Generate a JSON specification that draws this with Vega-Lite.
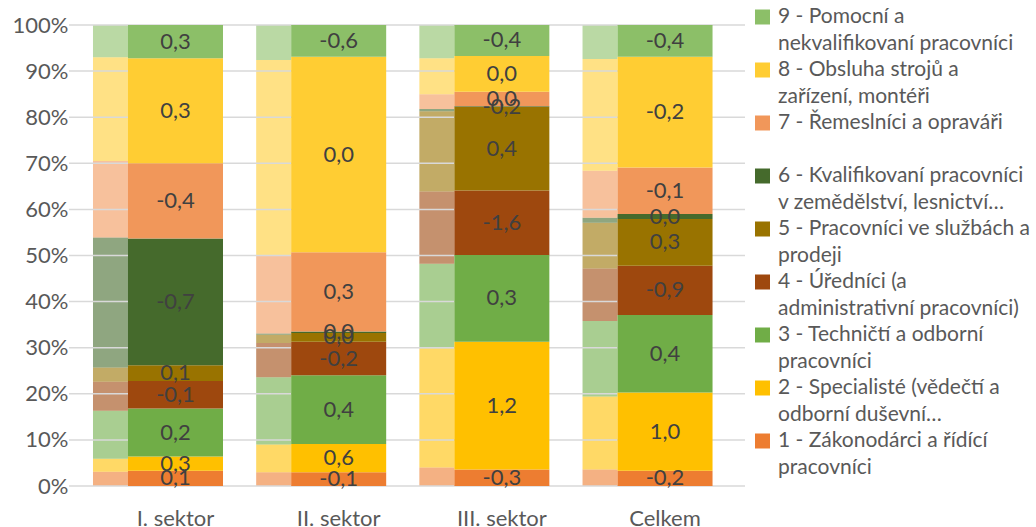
{
  "$schema": "https://vega.github.io/schema/vega-lite/v6.json",
  "width": 676,
  "height": 461,
  "autosize": {"type": "none"},
  "padding": {"left": 69, "top": 25, "right": 291, "bottom": 41},
  "background": "white",
  "config": {
    "font": "Lato",
    "view": {"stroke": null},
    "locale": {"number": {"decimal": ",", "thousands": " ", "grouping": [3], "currency": ["", " Kč"], "minus": "-"}},
    "style": {"guide-label": {"lineHeight": 26.5}},
    "axisY": {"grid": false, "domain": false, "ticks": false, "labelFontSize": 22, "labelColor": "#595959", "labelPadding": 1, "labelFont": "Lato"},
    "axisX": {"grid": false, "domain": false, "ticks": false, "labelFontSize": 22, "labelColor": "#595959", "labelPadding": 22, "labelOffset": 17.5, "labelAngle": 0, "labelFont": "Lato"},
    "legend": {"symbolOpacity": 1}
  },
  "datasets": {
    "grid": [{"v": 0}, {"v": 10}, {"v": 20}, {"v": 30}, {"v": 40}, {"v": 50}, {"v": 60}, {"v": 70}, {"v": 80}, {"v": 90}, {"v": 100}],
    "bars": [
      {"sector": "I. sektor", "code": 1, "cat": "1 - Zákonodárci a řídící pracovníci", "prev": 3.1, "curr": 3.3, "diff": 0.1},
      {"sector": "I. sektor", "code": 2, "cat": "2 - Specialisté (vědečtí a odborní duševní…", "prev": 2.8, "curr": 3.1, "diff": 0.3},
      {"sector": "I. sektor", "code": 3, "cat": "3 - Techničtí a odborní pracovníci", "prev": 10.4, "curr": 10.4, "diff": 0.2},
      {"sector": "I. sektor", "code": 4, "cat": "4 - Úředníci (a administrativní pracovníci)", "prev": 6.3, "curr": 6.0, "diff": -0.1},
      {"sector": "I. sektor", "code": 5, "cat": "5 - Pracovníci ve službách a prodeji", "prev": 3.1, "curr": 3.4, "diff": 0.1},
      {"sector": "I. sektor", "code": 6, "cat": "6 - Kvalifikovaní pracovníci v zemědělství, lesnictví…", "prev": 28.2, "curr": 27.5, "diff": -0.7},
      {"sector": "I. sektor", "code": 7, "cat": "7 - Řemeslníci a opraváři", "prev": 16.6, "curr": 16.3, "diff": -0.4},
      {"sector": "I. sektor", "code": 8, "cat": "8 - Obsluha strojů a zařízení, montéři", "prev": 22.5, "curr": 22.8, "diff": 0.3},
      {"sector": "I. sektor", "code": 9, "cat": "9 - Pomocní a nekvalifikovaní pracovníci", "prev": 7.0, "curr": 7.2, "diff": 0.3},
      {"sector": "II. sektor", "code": 1, "cat": "1 - Zákonodárci a řídící pracovníci", "prev": 3.0, "curr": 3.0, "diff": -0.1},
      {"sector": "II. sektor", "code": 2, "cat": "2 - Specialisté (vědečtí a odborní duševní…", "prev": 6.0, "curr": 6.1, "diff": 0.6},
      {"sector": "II. sektor", "code": 3, "cat": "3 - Techničtí a odborní pracovníci", "prev": 14.6, "curr": 14.9, "diff": 0.4},
      {"sector": "II. sektor", "code": 4, "cat": "4 - Úředníci (a administrativní pracovníci)", "prev": 7.4, "curr": 7.3, "diff": -0.2},
      {"sector": "II. sektor", "code": 5, "cat": "5 - Pracovníci ve službách a prodeji", "prev": 1.8, "curr": 1.9, "diff": 0.0},
      {"sector": "II. sektor", "code": 6, "cat": "6 - Kvalifikovaní pracovníci v zemědělství, lesnictví…", "prev": 0.3, "curr": 0.3, "diff": 0.0},
      {"sector": "II. sektor", "code": 7, "cat": "7 - Řemeslníci a opraváři", "prev": 16.8, "curr": 17.2, "diff": 0.3},
      {"sector": "II. sektor", "code": 8, "cat": "8 - Obsluha strojů a zařízení, montéři", "prev": 42.5, "curr": 42.4, "diff": 0.0},
      {"sector": "II. sektor", "code": 9, "cat": "9 - Pomocní a nekvalifikovaní pracovníci", "prev": 7.6, "curr": 6.9, "diff": -0.6},
      {"sector": "III. sektor", "code": 1, "cat": "1 - Zákonodárci a řídící pracovníci", "prev": 4.0, "curr": 3.6, "diff": -0.3},
      {"sector": "III. sektor", "code": 2, "cat": "2 - Specialisté (vědečtí a odborní duševní…", "prev": 25.9, "curr": 27.7, "diff": 1.2},
      {"sector": "III. sektor", "code": 3, "cat": "3 - Techničtí a odborní pracovníci", "prev": 18.3, "curr": 18.8, "diff": 0.3},
      {"sector": "III. sektor", "code": 4, "cat": "4 - Úředníci (a administrativní pracovníci)", "prev": 15.7, "curr": 14.0, "diff": -1.6},
      {"sector": "III. sektor", "code": 5, "cat": "5 - Pracovníci ve službách a prodeji", "prev": 17.4, "curr": 18.1, "diff": 0.4},
      {"sector": "III. sektor", "code": 6, "cat": "6 - Kvalifikovaní pracovníci v zemědělství, lesnictví…", "prev": 0.5, "curr": 0.2, "diff": -0.2},
      {"sector": "III. sektor", "code": 7, "cat": "7 - Řemeslníci a opraváři", "prev": 3.2, "curr": 3.1, "diff": 0.0},
      {"sector": "III. sektor", "code": 8, "cat": "8 - Obsluha strojů a zařízení, montéři", "prev": 7.8, "curr": 7.8, "diff": 0.0},
      {"sector": "III. sektor", "code": 9, "cat": "9 - Pomocní a nekvalifikovaní pracovníci", "prev": 7.2, "curr": 6.7, "diff": -0.4},
      {"sector": "Celkem", "code": 1, "cat": "1 - Zákonodárci a řídící pracovníci", "prev": 3.6, "curr": 3.3, "diff": -0.2},
      {"sector": "Celkem", "code": 2, "cat": "2 - Specialisté (vědečtí a odborní duševní…", "prev": 15.8, "curr": 17.0, "diff": 1.0},
      {"sector": "Celkem", "code": 3, "cat": "3 - Techničtí a odborní pracovníci", "prev": 16.4, "curr": 16.8, "diff": 0.4},
      {"sector": "Celkem", "code": 4, "cat": "4 - Úředníci (a administrativní pracovníci)", "prev": 11.4, "curr": 10.7, "diff": -0.9},
      {"sector": "Celkem", "code": 5, "cat": "5 - Pracovníci ve službách a prodeji", "prev": 9.9, "curr": 10.1, "diff": 0.3},
      {"sector": "Celkem", "code": 6, "cat": "6 - Kvalifikovaní pracovníci v zemědělství, lesnictví…", "prev": 1.1, "curr": 1.1, "diff": 0.0},
      {"sector": "Celkem", "code": 7, "cat": "7 - Řemeslníci a opraváři", "prev": 10.2, "curr": 10.1, "diff": -0.1},
      {"sector": "Celkem", "code": 8, "cat": "8 - Obsluha strojů a zařízení, montéři", "prev": 24.2, "curr": 24.0, "diff": -0.2},
      {"sector": "Celkem", "code": 9, "cat": "9 - Pomocní a nekvalifikovaní pracovníci", "prev": 7.4, "curr": 6.9, "diff": -0.4}
    ]
  },
  "layer": [
    {
      "data": {"name": "bars"},
      "mark": {"type": "bar", "width": {"band": 0.2692}, "xOffset": -47.5, "opacity": 0.6},
      "encoding": {
        "x": {"field": "sector", "type": "nominal", "sort": ["I. sektor", "II. sektor", "III. sektor", "Celkem"], "title": null, "scale": {"paddingInner": 0.2033, "paddingOuter": 0.173, "align": 0.425}},
        "y": {"field": "prev", "type": "quantitative", "stack": "zero", "title": null, "scale": {"domain": [0, 100], "nice": false}, "axis": {"values": [0, 10, 20, 30, 40, 50, 60, 70, 80, 90, 100], "labelExpr": "datum.value + '%'"}},
        "color": {
          "field": "cat", "type": "nominal",
          "scale": {
            "domain": ["9 - Pomocní a nekvalifikovaní pracovníci", "8 - Obsluha strojů a zařízení, montéři", "7 - Řemeslníci a opraváři", "6 - Kvalifikovaní pracovníci v zemědělství, lesnictví…", "5 - Pracovníci ve službách a prodeji", "4 - Úředníci (a administrativní pracovníci)", "3 - Techničtí a odborní pracovníci", "2 - Specialisté (vědečtí a odborní duševní…", "1 - Zákonodárci a řídící pracovníci"],
            "range": ["#8CBF68", "#FFCD33", "#F1975A", "#456A2C", "#997300", "#9E480E", "#70AD47", "#FFC000", "#ED7D31"]
          },
          "legend": {
            "title": null, "orient": "none", "legendX": 683, "legendY": -18.5, "padding": 0,
            "symbolType": "square", "symbolSize": 225, "symbolStrokeWidth": 0, "symbolOpacity": 1,
            "labelFontSize": 21, "labelColor": "#595959", "labelFont": "Lato", "labelLimit": 400, "labelOffset": 5, "rowPadding": 5,
            "labelExpr": "split(replace(replace(datum.label, / (nekvalifikovaní|zařízení|v zemědělství|prodeji|administrativní|odborní duševní|pracovníci$)/, '|$1'), /opraváři$/, 'opraváři|'), '|')"
          }
        },
        "order": {"field": "code", "sort": "ascending"}
      }
    },
    {
      "data": {"name": "grid"},
      "mark": {"type": "rule", "color": "#D9D9D9", "strokeWidth": 1.5},
      "encoding": {"y": {"field": "v", "type": "quantitative"}}
    },
    {
      "data": {"name": "bars"},
      "mark": {"type": "bar", "width": {"band": 0.7308}, "xOffset": 17.5},
      "encoding": {
        "x": {"field": "sector", "type": "nominal", "sort": ["I. sektor", "II. sektor", "III. sektor", "Celkem"]},
        "y": {"field": "curr", "type": "quantitative", "stack": "zero"},
        "color": {"field": "cat", "type": "nominal"},
        "order": {"field": "code", "sort": "ascending"}
      }
    },
    {
      "data": {"name": "bars"},
      "mark": {"type": "text", "xOffset": 17.5, "fontSize": 22, "color": "#404040", "font": "Lato", "baseline": "middle"},
      "encoding": {
        "x": {"field": "sector", "type": "nominal", "sort": ["I. sektor", "II. sektor", "III. sektor", "Celkem"]},
        "y": {"field": "curr", "type": "quantitative", "stack": "zero", "bandPosition": 0.5},
        "detail": {"field": "cat", "type": "nominal"},
        "order": {"field": "code", "sort": "ascending"},
        "text": {"field": "diff", "type": "quantitative", "format": ".1f"}
      }
    }
  ]
}
